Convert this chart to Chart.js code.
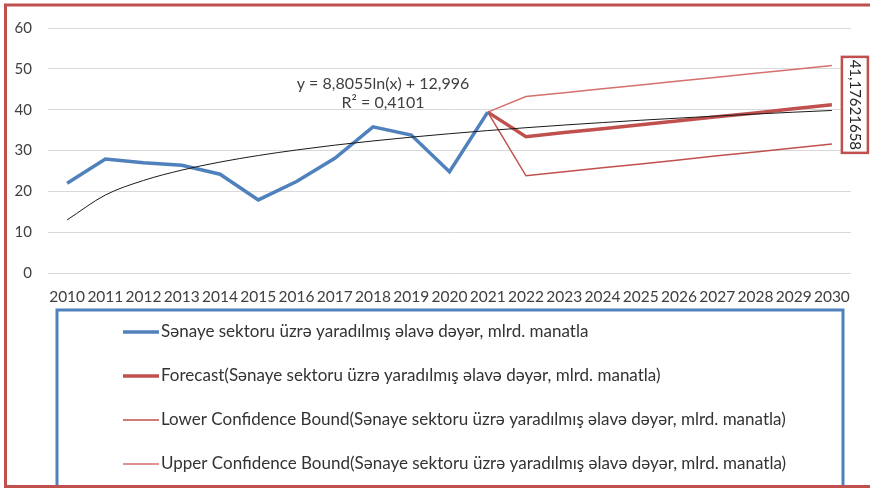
<!DOCTYPE html>
<html><head><meta charset="utf-8">
<script src="https://cdn.jsdelivr.net/npm/chart.js@4/dist/chart.umd.min.js"></script>
<style>html,body{margin:0;padding:0;background:#fff;overflow:hidden}#wrap{width:870px;height:488px;position:relative}</style>
</head><body><div id="wrap"><canvas id="c" width="870" height="488"></canvas></div>
<script>
// ---- data ----
const years = ["2010","2011","2012","2013","2014","2015","2016","2017","2018","2019","2020","2021","2022","2023","2024","2025","2026","2027","2028","2029","2030"];
const actual = [22.0, 27.9, 27.0, 26.4, 24.2, 17.9, 22.4, 28.1, 35.8, 33.8, 24.8, 39.4];
const forecastStart = 11; // index of 2021
const forecast = [39.4, 33.4, 34.4, 35.35, 36.3, 37.3, 38.25, 39.2, 40.2, 41.17621658];
const lowerBound = [39.4, 23.8, 24.8, 25.75, 26.7, 27.7, 28.7, 29.65, 30.6, 31.6];
const upperBound = [39.4, 43.2, 44.15, 45.1, 46.05, 47.0, 47.95, 48.9, 49.85, 50.8];
const trend = [13.0, 19.1, 22.67, 25.2, 27.17, 28.77, 30.13, 31.31, 32.34, 33.27, 34.11, 34.88, 35.58, 36.23, 36.84, 37.41, 37.94, 38.45, 38.92, 39.38, 39.8];
const yTicks = [0, 10, 20, 30, 40, 50, 60];
const seriesNames = [
  "Sənaye sektoru üzrə yaradılmış əlavə dəyər, mlrd. manatla",
  "Forecast(Sənaye sektoru üzrə yaradılmış əlavə dəyər, mlrd. manatla)",
  "Lower Confidence Bound(Sənaye sektoru üzrə yaradılmış əlavə dəyər, mlrd. manatla)",
  "Upper Confidence Bound(Sənaye sektoru üzrə yaradılmış əlavə dəyər, mlrd. manatla)"
];
const equationLines = ["y = 8,8055ln(x) + 12,996", "R² = 0,4101"];

// ---- build ----
function pad(arr, start){ const out = years.map(()=>null); arr.forEach((v,i)=>{ out[start+i]=v; }); return out; }
const FONT = "Lato";
const TXT = "#404040";

const deco = {
  id: 'deco',
  afterDraw(chart){
    const ctx = chart.ctx, xs = chart.scales.x, ys = chart.scales.y;
    ctx.save();
    // trendline equation
    ctx.fillStyle = TXT; ctx.font = "16px " + FONT; ctx.textAlign = "center"; ctx.textBaseline = "middle";
    ctx.fillText(equationLines[0], 383, 84);
    ctx.fillText(equationLines[1], 383, 103);
    // data label on last forecast point
    const li = forecastStart + forecast.length - 1;
    const px = xs.getPixelForValue(li), py = ys.getPixelForValue(forecast[forecast.length-1]);
    const bx = px + 10, bw = 26, bh = 96, by = py - bh/2;
    ctx.fillStyle = "#fff"; ctx.fillRect(bx, by, bw, bh);
    ctx.strokeStyle = "#c0504d"; ctx.lineWidth = 2.5; ctx.strokeRect(bx, by, bw, bh);
    ctx.translate(bx + bw/2, py); ctx.rotate(Math.PI/2);
    ctx.fillStyle = "#262626"; ctx.font = "15px " + FONT; ctx.textAlign = "center"; ctx.textBaseline = "middle";
    ctx.fillText(String(forecast[forecast.length-1]).replace('.', ','), 0, 0);
    ctx.setTransform(1,0,0,1,0,0);
    // legend box
    ctx.strokeStyle = "#4f81bd"; ctx.lineWidth = 3; ctx.strokeRect(57, 310, 786, 200);
    const rows = [332, 376, 420, 464];
    for (let i = 0; i < 4; i++) {
      const ds = chart.data.datasets[i];
      ctx.strokeStyle = ds.borderColor; ctx.lineWidth = ds.borderWidth;
      ctx.beginPath(); ctx.moveTo(123, rows[i]); ctx.lineTo(159, rows[i]); ctx.stroke();
      ctx.fillStyle = "#333"; ctx.font = "17px " + FONT; ctx.textAlign = "left"; ctx.textBaseline = "middle";
      ctx.fillText(ds.label, 161, rows[i]);
    }
    // outer frame
    ctx.strokeStyle = "#c0504d"; ctx.lineWidth = 3; ctx.strokeRect(5.5, 5, 900, 481.5);
    ctx.restore();
  }
};

new Chart(document.getElementById('c'), {
  type: 'line',
  data: {
    labels: years,
    datasets: [
      { label: seriesNames[0], data: actual, borderColor: "#4f81bd", borderWidth: 3.5, pointRadius: 0, order: 2, tension: 0 },
      { label: seriesNames[1], data: pad(forecast, forecastStart), borderColor: "#c0504d", borderWidth: 3.5, pointRadius: 0, order: 3 },
      { label: seriesNames[2], data: pad(lowerBound, forecastStart), borderColor: "#c0504d", borderWidth: 1.5, pointRadius: 0, order: 4 },
      { label: seriesNames[3], data: pad(upperBound, forecastStart), borderColor: "#d4706d", borderWidth: 1.5, pointRadius: 0, order: 5 },
      { label: "trend", data: trend, borderColor: "#1a1a1a", borderWidth: 1, pointRadius: 0, order: 1, cubicInterpolationMode: 'monotone' }
    ]
  },
  options: {
    responsive: false, animation: false, devicePixelRatio: 1,
    layout: { padding: { left: 0, right: 19, top: 28, bottom: 0 } },
    plugins: { legend: { display: false }, tooltip: { enabled: false } },
    scales: {
      x: {
        type: 'category', offset: true,
        grid: { display: false, drawTicks: false },
        border: { display: false },
        ticks: { color: TXT, font: { family: FONT, size: 15.5 }, padding: 15, maxRotation: 0, autoSkip: false },
        afterFit(s){ s.height = 215; }
      },
      y: {
        min: 0, max: 60,
        afterBuildTicks(s){ s.ticks = yTicks.map(v=>({value:v})); },
        grid: { color: "#d9d9d9", lineWidth: 1, drawTicks: false },
        border: { display: false },
        ticks: { color: TXT, font: { family: FONT, size: 15 }, padding: 16 },
        afterFit(s){ s.width = 48; }
      }
    }
  },
  plugins: [deco]
});
</script>
</body></html>
